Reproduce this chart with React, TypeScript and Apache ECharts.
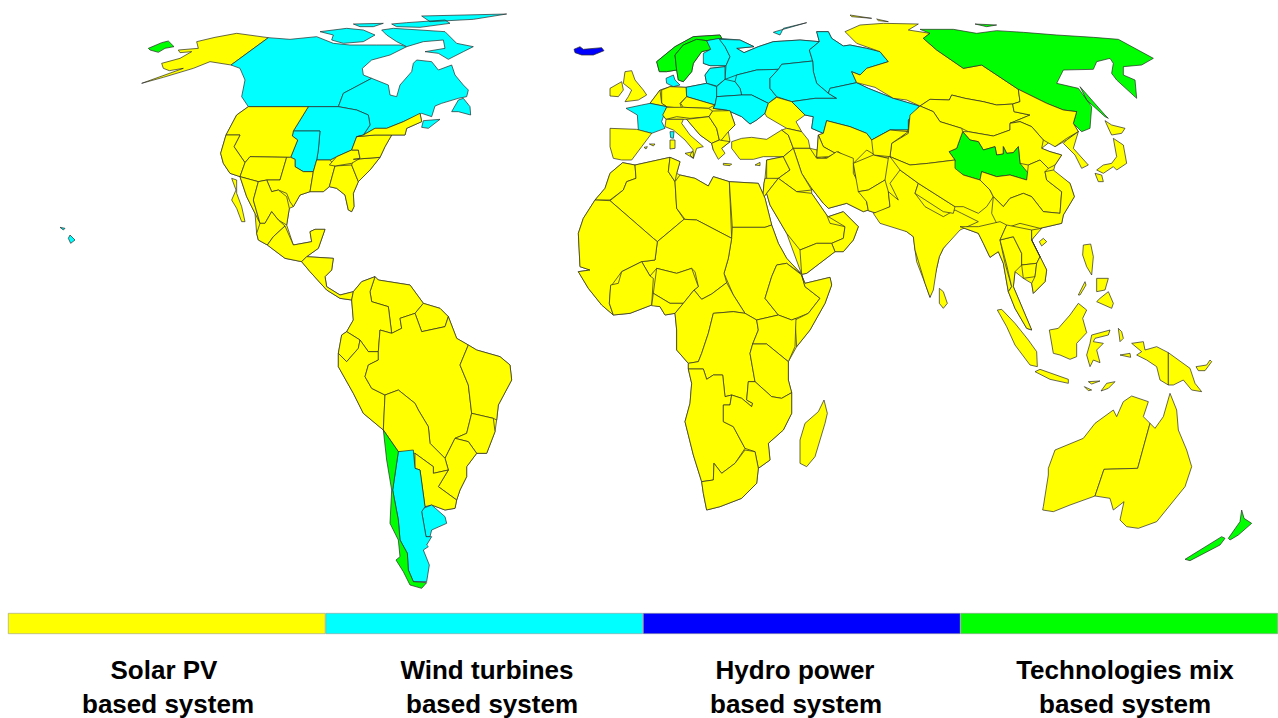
import React, { useEffect, useRef } from "react";
import * as echarts from "echarts";

type Ring = number[][];
// Traced outlines: flat x,y lists, with the origin of the crop they were read in.
const z = (ox: number, oy: number, f: number[]): Ring => {
  const r: Ring = [];
  for (let i = 0; i < f.length; i += 2) r.push([ox + f[i] / 3, oy + f[i + 1] / 3]);
  r.push(r[0]);
  return r;
};
const na = (f: number[]) => z(130, 0, f);
const eu = (f: number[]) => z(560, 0, f);
const as = (f: number[]) => z(840, 0, f);
const sa = (f: number[]) => z(320, 270, f);
const af = (f: number[]) => z(570, 140, f);
const oc = (f: number[]) => z(900, 220, f);
const pg = (f: number[]) => z(0, 0, f);

const shapes: Record<string, Ring[]> = {
  LandNorthAmerica: [na([355,320,535,320,487,408,503,420,482,472,495,478,495,500,520,515,550,515,565,478,600,480,620,470,665,450,680,410,700,405,735,385,770,385,820,365,870,340,875,365,830,385,825,405,785,405,765,440,750,472,720,510,685,545,670,580,672,620,665,635,655,630,645,585,620,565,598,560,580,575,540,575,510,585,490,620,478,625,470,675,490,735,545,725,540,695,555,688,585,688,565,745,530,770,610,775,605,810,585,830,590,860,630,885,670,875,665,900,630,895,590,870,540,815,515,785,465,775,412,735,385,720,380,700,375,640,350,590,330,530,300,520,280,490,272,460,288,405,320,345])],
  LandSouthAmerica: [sa([125,35,165,20,175,30,270,45,310,100,360,115,385,140,410,205,445,225,470,240,540,260,570,285,575,330,535,405,530,450,525,485,500,550,470,550,440,590,440,620,420,660,410,690,405,715,375,720,335,705,315,710,300,600,285,595,280,540,235,545,190,480,130,430,100,370,55,290,55,250,65,195,80,185,100,150,95,90,100,65])],
  LandAfrica: [af([158,68,195,75,300,52,330,65,320,100,330,105,375,115,415,138,430,110,478,125,565,130,585,175,605,255,625,310,650,355,692,400,705,430,780,412,785,435,765,490,720,570,680,620,655,665,655,720,665,758,665,820,640,870,595,910,600,960,565,985,560,1030,515,1075,450,1100,410,1110,400,1060,395,1025,370,945,345,845,360,790,365,730,355,687,355,670,320,630,320,570,315,520,285,525,270,500,245,495,180,520,130,525,95,495,55,445,25,395,60,390,30,380,25,280,40,235,75,180,105,145,120,100])],
  LandArabia: [af([582,130,585,115,590,60,640,50,670,25,720,25,850,55,885,165,895,210,880,215,830,190,775,205,760,190,725,145,725,160,770,225,775,230,820,215,865,260,850,300,820,335,795,335,710,400,695,403,650,280,600,195,590,160,578,175])],
  LandCentralEurope: [eu([270,310,300,270,330,260,378,262,380,290,465,315,460,325,500,330,510,332,525,375,505,395,510,425,485,445,460,450,455,430,420,405,380,358,370,358,318,358,308,345,320,322])],
  LandAsia: [as([-65,405,-50,400,-40,362,30,380,80,400,95,420,150,390,205,390,210,345,240,318,270,298,328,300,335,285,375,295,430,305,470,315,518,312,540,305,535,268,620,310,670,330,710,335,700,370,715,395,680,420,645,440,630,425,605,445,630,455,665,465,645,495,640,515,690,550,703,590,670,645,665,670,600,685,575,720,620,810,615,845,580,880,575,850,550,835,525,815,520,860,575,990,560,985,525,925,505,875,490,790,475,755,450,772,430,730,415,700,360,680,310,745,298,770,290,805,270,892,255,850,230,785,225,750,220,710,200,695,110,640,85,632,55,575,40,490,-55,470,-70,472])],
  LandEastEurope: [eu([430,190,452,148,440,122,478,115,540,120,582,140,530,145,552,158,595,140,640,125,720,120,778,125,770,95,805,95,815,115,850,138,870,135,920,145,960,155,985,185,920,205,900,225,875,215,890,248,925,265,1000,295,1078,318,1045,360,1045,390,990,390,935,420,920,400,870,380,800,362,790,400,755,385,760,350,735,345,695,305,650,292,625,310,615,340,590,360,570,372,545,350,500,330,460,325,465,315,380,290,378,262,440,250,435,225,450,205,495,200,498,197,450,197])],
  LandScandinavia: [eu([290,185,345,140,400,110,480,105,485,115,440,122,455,148,425,155,400,190,395,215,370,245,355,240,350,210,320,215,298,215])],

  Alaska: [na([415,113,320,100,255,112,200,125,205,145,145,150,150,158,185,155,150,175,95,190,100,205,118,212,160,205,35,250,100,232,190,205,240,185,303,195])],
  Aleutian: [na([55,145,95,128,115,123,132,140,105,145,85,157,60,150])],
  Hawaii: [pg([180,682,195,685,190,690]), pg([210,705,225,720,212,730,205,715])],
  WestCanada: [na([415,113,480,118,560,110,610,130,660,135,740,135,810,135,830,140,780,165,725,180,697,205,700,225,725,235,640,280,625,320,355,320,335,290,345,240,330,205,303,195])],
  EastCanada: [na([725,235,775,255,780,285,800,290,810,255,845,215,850,190,860,180,905,185,925,210,965,195,975,225,1000,255,1015,270,1010,290,985,295,935,310,915,318,905,350,875,340,820,365,770,385,735,385,700,405,720,375,715,345,680,330,625,320,640,280]), na([985,300,1000,295,1020,320,1022,345,985,335,965,335]), na([880,362,930,358,895,385,875,382])],
  ArcticA: [na([570,95,650,85,700,90,735,105,700,125,640,130,605,120,610,105]), na([670,72,760,70,730,80,690,80]), na([755,90,790,85,870,90,945,95,980,130,1030,140,1000,155,955,178,925,160,885,155,945,145,940,120,880,125,830,140,800,125,770,105]), na([785,72,830,68,945,60,960,70,870,82,800,80]), na([875,48,1130,42,1030,58,900,65])],
  Midwest: [na([535,320,625,320,680,330,715,345,720,375,700,405,680,410,665,450,620,470,600,480,560,480,565,450,570,393,490,393])],
  Plains: [na([490,393,570,393,565,450,560,480,550,515,520,515,495,500,495,478,482,472,503,420,487,408])],
  Northwest: [na([355,320,535,320,490,393,487,408,503,420,482,472,360,470,345,488,312,440,330,405,288,405,320,345])],
  California: [na([288,405,330,405,312,440,345,488,330,530,300,520,280,490,272,460])],
  Southwest: [na([345,488,360,470,470,472,450,540,410,540,385,545,330,530])],
  Texas: [na([470,472,482,472,495,478,495,500,520,515,550,515,540,575,510,585,490,620,480,605,470,580,445,570,425,575,410,540,450,540])],
  Central: [na([560,480,600,480,615,498,598,560,580,575,540,575,550,515])],
  Southeast: [na([615,498,665,495,685,545,670,580,672,620,665,635,655,630,645,585,620,565,598,560])],
  Carolina: [na([665,495,670,478,750,472,720,510,685,545])],
  Kentucky: [na([598,495,620,470,665,450,685,450,690,475,665,490,615,498])],
  Virginia: [na([680,410,735,405,785,405,765,440,750,472,670,478,690,475,685,450,665,450])],
  Northeast: [na([700,405,735,385,770,385,820,365,870,340,875,365,830,385,825,405,785,405,735,405,680,410])],
  Baja: [na([305,535,320,540,320,580,335,620,345,665,335,665,320,625,305,600,318,570])],
  Sonora: [na([330,530,385,545,370,600,390,670,375,640,350,590])],
  NorthMexico: [na([385,545,410,540,425,575,445,570,470,590,478,625,470,675,445,660,425,635,405,670,390,670,370,600])],
  CentralMexico: [na([390,670,405,670,425,635,445,660,465,678,430,710,412,735,385,720,380,700])],
  SouthMexico: [na([465,678,490,735,545,725,540,695,555,688,585,688,565,745,530,770,515,785,465,775,412,735,430,710])],
  CentralAmerica: [na([515,785,530,770,610,775,605,810,585,830,590,860,630,885,670,875,665,900,630,895,590,870,540,815])],

  Iceland: [eu([42,148,60,140,70,148,125,143,132,152,100,165,65,165,45,158])],
  Norway: [eu([290,185,345,140,400,110,480,105,485,115,440,122,410,118,370,135,345,165,350,210,320,215,298,215])],
  Sweden: [eu([345,165,370,135,410,118,440,122,455,148,425,155,400,190,395,215,370,245,355,240,350,210])],
  Finland: [eu([440,122,478,115,495,140,510,170,498,197,450,197,430,190,430,160,452,148])],
  Denmark: [eu([318,235,340,225,345,240,360,255,340,260,320,250])],
  Britain: [eu([195,215,215,212,225,240,250,270,260,285,235,300,195,305,205,290,215,270,190,250])],
  Ireland: [eu([150,265,185,245,190,270,175,290,150,288])],
  RussiaNW: [eu([478,118,540,120,582,140,530,145,552,158,595,140,640,125,720,120,778,125,748,150,758,183,665,193,655,208,590,210,530,225,495,238,498,197,510,170,495,140]), eu([645,95,740,68,670,85,660,105,640,97])],
  RussiaUral: [eu([778,125,770,95,805,95,815,115,850,138,870,135,920,145,960,155,985,185,920,205,900,225,875,215,890,248,810,265,805,280,770,250,760,215,758,183,748,150])],
  RussiaMid: [eu([530,225,590,210,655,208,630,235,630,265,650,290,625,310,575,285,545,285,540,265,525,245])],
  RussiaVolga: [eu([655,208,665,193,758,183,760,215,770,250,805,280,830,295,765,295,695,305,650,290,630,265,630,235])],
  Kazakhstan: [eu([805,280,810,265,890,248,925,265,1000,295,1078,318,1045,360,1045,390,990,390,935,420,920,400,870,380,800,362,790,400,755,385,760,350,735,345,695,305,765,295,830,295])],
  Baltics: [eu([435,225,450,205,495,200,495,238,470,258,440,250])],
  Poland: [eu([378,262,440,250,470,260,470,290,465,315,380,290])],
  Belarus: [eu([470,260,495,238,525,245,540,265,545,285,470,290])],
  Ukraine: [eu([470,290,545,285,575,285,625,310,615,340,590,360,570,372,545,350,500,330,460,325,465,315])],
  SouthRussia: [eu([650,292,695,305,735,345,708,365,725,395,680,385,620,350,615,340,625,310])],
  Germany: [eu([305,310,305,270,330,260,378,262,380,290,360,310,365,325,320,320])],
  Benelux: [eu([270,310,300,270,305,310,320,320])],
  France: [eu([198,325,245,315,270,310,320,320,305,365,315,385,275,400,235,390,232,345]), eu([330,395,342,395,340,415,332,413])],
  Iberia: [eu([150,385,230,388,275,400,245,440,215,480,185,480,160,475,150,440]), eu([268,432,285,432,280,438]), eu([252,442,262,440,258,447])],
  Czech: [eu([362,310,380,290,465,315,445,325,370,322])],
  Austria: [eu([308,345,320,322,370,322,445,325,458,333,447,350,390,355,350,350,318,358])],
  Italy: [eu([315,380,318,358,370,358,365,370,390,405,430,440,410,445,400,475,390,465,400,450,375,420,340,390]), eu([375,460,400,455,400,475]), eu([330,420,345,420,345,445,330,447])],
  Balkans: [eu([380,358,447,350,470,385,478,420,455,430,420,405])],
  Romania: [eu([447,350,458,333,510,332,525,375,505,395,480,425,478,420,470,385])],
  Greece: [eu([455,430,478,420,510,425,485,445,495,460,475,478,460,450]), eu([490,490,515,492,510,497,490,495])],
  Turkey: [eu([515,425,545,415,575,412,620,418,665,390,685,405,700,445,670,470,610,470,580,478,540,478,515,445]), eu([585,495,600,487,600,497])],
  Caucasus: [eu([665,390,680,385,725,395,745,420,750,445,700,445,685,405])],
  Uzbekistan: [eu([775,405,790,400,800,362,870,380,920,400,935,420,990,390,1045,390,1000,440,985,475,945,465,920,450,880,490,790,440])],
  Turkmenistan: [eu([775,405,790,440,880,490,835,455,805,470,770,472])],

  Iran: [af([670,25,720,25,740,55,770,55,800,35,850,55,850,100,885,165,895,210,880,215,830,190,775,205,760,190,725,145,695,100])],
  Syria: [af([590,60,640,50,660,90,625,115,590,120])],
  Iraq: [af([640,50,670,25,695,100,725,150,680,155,625,115,660,90])],
  Jordan: [af([585,115,625,115,590,160,578,175,582,130])],
  Saudi: [af([625,115,680,155,725,160,770,225,780,250,825,260,820,295,785,310,740,310,690,330,650,280,600,195,590,160])],
  Oman: [af([775,230,820,215,865,260,850,300,820,335,795,335,785,310,820,295,825,260])],
  Yemen: [af([690,330,740,310,785,310,795,335,710,400,695,403])],
  Morocco: [af([158,68,195,75,198,115,170,125,160,150,120,180,75,180,105,145,120,100])],
  Algeria: [af([195,75,300,52,295,95,315,125,320,205,342,238,262,305,250,295,120,182,160,150,170,125,198,115])],
  Tunisia: [af([300,52,330,65,320,100,315,125,295,95])],
  Libya: [af([315,125,330,105,375,115,415,138,430,110,478,125,485,295,380,240,345,238,320,205])],
  Egypt: [af([478,125,565,130,585,175,605,255,585,262,487,262])],
  Sudan: [af([487,262,585,262,605,255,625,310,650,355,692,400,650,370,620,375,605,410,585,475,625,525,560,540,525,520,490,465,462,400,475,355,485,295])],
  Ethiopia: [af([620,375,650,370,695,405,705,440,750,475,715,520,665,540,625,525,585,475,605,410])],
  Somalia: [af([695,405,705,430,780,412,785,435,765,490,720,570,680,620,675,540,715,520,750,475,705,440])],
  Niger: [af([262,305,342,238,380,240,485,295,475,355,462,400,470,428,425,462,395,478,372,450,385,440,375,395,365,385,320,400,260,385,240,408,215,365,255,360])],
  Mali: [af([75,180,120,182,250,295,262,305,255,360,215,365,155,395,122,440,118,490,130,525,95,495,55,445,25,395,60,390,30,380,25,280,40,235])],
  IvoryCoast: [af([215,365,240,408,250,415,245,495,180,520,130,525,118,490,122,435,145,430,155,395])],
  Nigeria: [af([260,385,320,400,365,385,385,440,372,450,340,490,300,490,250,460])],
  Benin: [af([250,460,300,490,340,490,315,520,285,525,270,500,245,497])],
  Cameroon: [af([372,450,395,478,425,462,470,428,490,465,525,520,490,515,430,520,415,580,395,640,385,665,355,670,320,630,320,570,315,520,340,490])],
  Congo: [af([430,520,490,515,525,520,560,540,565,570,548,612,540,640,555,725,535,725,530,780,548,790,545,800,515,775,485,765,465,770,458,705,430,705,410,718,400,687,355,687,355,670,385,665,395,640,415,580])],
  Kenya: [af([560,540,625,525,665,540,678,535,675,620,655,665,590,612,548,612,565,570])],
  Tanzania: [af([548,612,590,612,655,665,655,720,665,758,635,775,605,770,555,725,540,640])],
  Angola: [af([355,687,400,687,410,718,430,705,458,705,465,770,485,765,480,795,460,795,460,845,490,860,525,925,495,970,455,1000,432,970,430,1020,395,1025,370,945,345,845,360,790,365,730])],
  Zambia: [af([480,795,485,765,515,775,545,800,548,790,530,780,535,725,555,725,605,770,635,775,665,758,665,820,640,870,595,910,600,960,565,985,555,935,525,925,490,860,460,845,460,795])],
  SouthAfrica: [af([395,1025,430,1020,432,970,455,1000,495,970,525,930,555,935,565,985,560,1030,515,1075,450,1100,410,1110,400,1060])],
  Madagascar: [af([762,780,772,820,765,850,735,950,710,980,690,970,690,900,705,850,745,815])],

  Siberia: [as([15,95,60,75,130,70,235,72,205,90,270,100,250,115,290,150,370,205,425,195,535,268,540,305,518,312,470,315,430,305,375,295,335,285,328,300,270,298,240,318,200,300,160,295,105,262,50,248,35,215,60,225,80,205,145,185,120,155,50,130,30,110]), as([30,45,95,55,35,50]), as([110,57,145,65,115,62])],
  EastSiberia: [as([250,115,270,100,240,88,340,88,410,100,470,92,550,97,650,105,760,112,835,118,940,175,905,195,850,200,850,225,885,240,890,295,830,240,815,220,820,190,810,175,770,185,760,208,670,210,650,250,715,265,755,320,750,385,725,395,700,370,710,335,670,330,620,310,535,268,425,195,370,205,290,150]), as([720,260,795,345,805,355,795,350,740,300]), as([405,72,470,75,440,80])],
  Mongolia: [as([240,318,270,298,328,300,335,285,375,295,430,305,470,315,518,312,522,335,570,345,510,370,510,390,460,408,385,395,365,385,300,365,280,335])],
  Manchuria: [as([518,312,540,305,535,268,620,310,670,330,710,335,700,370,715,395,680,415,645,440,610,420,575,380,540,365,510,370,570,345,522,335])],
  NorthChina: [as([368,395,385,395,460,408,510,390,510,370,540,365,575,380,610,420,605,445,630,455,665,465,645,495,625,505,600,480,565,495,540,490,535,440,520,458,500,460,490,440,490,462,470,465,465,440,430,450,415,425,390,420])],
  Qinghai: [as([368,395,390,420,415,425,430,450,465,440,470,465,490,462,490,440,500,460,520,458,535,440,540,490,565,520,560,540,510,525,470,530,425,515,420,540,370,525,340,505,345,480,327,455,350,445])],
  Xinjiang: [as([240,318,280,335,300,365,365,385,368,395,350,445,327,455,345,480,265,490,210,495,150,470,155,430,205,400,210,345])],
  Kyrgyz: [as([150,470,155,430,205,395,150,390,95,420,100,465])],
  Afghanistan: [as([40,490,100,465,145,475,135,540,85,570,55,575])],
  Pakistan: [as([55,575,85,570,135,540,145,575,150,620,110,640,85,632,80,605])],
  India: [as([100,640,150,620,145,575,175,600,150,550,180,510,235,550,225,580,255,620,310,650,345,630,365,640,415,665,360,690,310,745,298,770,290,805,280,870,270,892,255,850,225,750,220,710,200,695,120,670])],
  Nepal: [as([235,550,345,620,340,640,310,635,225,580])],
  Tibet: [as([150,470,210,495,265,490,345,480,345,505,370,525,420,540,450,570,460,590,440,620,415,640,370,620,345,620,235,550,180,510])],
  CentralChina: [as([420,540,425,515,470,530,510,525,560,540,565,495,600,480,625,505,615,515,620,540,665,575,660,640,610,635,575,590,550,580,510,595,490,620,460,590,450,570])],
  SouthChina: [as([615,515,640,510,690,550,703,590,670,645,665,670,600,685,540,670,480,690,455,640,460,590,490,620,510,595,550,580,575,590,610,635,660,640,665,575,620,540])],
  Hokkaido: [as([795,362,815,375,855,385,845,400,815,405,810,395])],
  Honshu: [as([820,415,850,435,860,490,830,510,820,500,790,520,770,510,790,495,815,490,830,470]), as([765,520,785,525,790,545,775,545])],
  Korea: [as([680,420,715,395,700,445,745,495,725,505,705,465,670,430])],

  Myanmar: [oc([180,20,235,20,300,5,320,15,300,60,315,130,335,200,325,215,310,130,295,95,270,112,250,70,235,40])],
  Thailand: [oc([300,60,340,50,365,100,365,135,345,155,340,200,395,330,380,325,345,265,325,215,335,200,320,135])],
  Laos: [oc([320,15,395,30,395,60,420,110,410,130,365,135,365,100,340,50,300,60])],
  Cambodia: [oc([365,135,410,130,405,170,370,175])],
  Vietnam: [oc([395,30,425,25,395,60,440,150,435,185,400,220,395,190,405,170,410,130,420,110,395,60])],
  Hainan: [oc([430,55,440,65,425,78,418,65])],
  SriLanka: [oc([118,205,130,215,142,250,130,265,118,250])],
  Sumatra: [oc([292,270,305,268,345,310,385,360,410,395,412,440,390,435,345,375,320,320])],
  Java: [oc([405,455,420,448,505,478,505,490,450,478])],
  Borneo: [oc([448,330,475,325,510,285,535,250,560,270,548,295,560,338,530,370,530,410,510,418,480,405,460,400])],
  Sulawesi: [oc([575,345,630,330,625,345,585,355,580,365,610,370,590,390,600,428,580,420,570,440,560,405,570,370])],
  Papua: [oc([695,370,730,365,735,390,770,380,805,398,805,465,805,495,780,480,770,440,740,420,710,405,725,395])],
  PNG: [oc([805,398,870,445,885,490,905,515,875,510,850,480,820,495,805,495]), oc([888,440,920,435,930,420,935,425,915,452,895,452])],
  Philippines: [oc([550,75,572,72,580,110,575,165,560,140,548,105]), oc([590,175,625,175,615,210,590,215]), oc([600,235,625,215,640,250,635,265,590,245]), oc([535,225,555,185,558,195,540,225])],
  Moluccas: [oc([603,513,620,490,645,485,625,505]), oc([565,485,600,483,575,492]), oc([553,500,575,510,565,512]), oc([660,405,690,400,692,412]), oc([655,325,665,335,670,355,660,365])],
  WestAustralia: [oc([430,860,445,765,445,745,465,690,550,655,585,610,640,570,650,590,670,545,695,528,745,545,730,590,750,610,713,745,612,748,585,828,510,855,460,875,428,870])],
  EastAustralia: [oc([750,610,765,625,790,590,810,520,830,570,835,630,860,690,875,740,855,800,770,905,715,925,680,920,660,900,672,845,640,870,630,835,585,828,612,748,713,745])],
  NewZealand: [oc([855,1018,965,950,975,955,960,975,870,1022]), oc([985,955,1020,905,1025,870,1032,895,1055,910,1015,945,990,960])],

  Venezuela: [sa([165,20,175,30,270,45,310,100,285,130,240,145,245,175,215,190,205,110,155,95,150,65])],
  Guianas: [sa([310,100,360,115,385,140,375,170,305,185,285,130])],
  Colombia: [sa([125,35,165,20,150,65,155,95,205,110,215,190,180,180,175,245,145,245,120,210,80,185,100,150,95,90,100,65])],
  Ecuador: [sa([80,185,120,210,115,235,80,275,55,250,65,195])],
  Peru: [sa([115,235,120,210,145,245,175,245,175,270,145,285,135,320,155,355,195,375,190,480,130,430,100,370,55,290,55,250,80,275])],
  Brazil: [sa([175,245,180,180,215,190,245,175,240,145,285,130,305,185,375,170,385,140,410,205,445,225,420,285,445,345,455,430,440,490,405,505,385,545,375,565,330,520,325,470,295,420,285,400,235,360,195,375,155,355,135,320,145,285,175,270])],
  NEBrazil: [sa([445,225,470,240,540,260,570,285,575,330,535,405,530,450,520,445,455,430,445,345,420,285])],
  SEBrazil: [sa([455,430,520,445,525,485,500,550,470,550,445,515,405,505,440,490])],
  SouthBrazil: [sa([405,505,445,515,470,550,440,590,440,620,420,660,410,690,355,650,385,600,375,565,385,545])],
  Bolivia: [sa([195,375,235,360,285,400,295,420,325,470,330,520,375,565,385,600,340,610,340,590,285,550,235,545,190,480])],
  Paraguay: [sa([285,550,340,590,340,610,385,600,355,650,410,690,405,715,375,720,335,705,315,710,300,600,285,595])],
  Uruguay: [sa([310,715,335,705,375,740,380,760,335,780,330,800,318,800,305,725])],
  Argentina: [sa([235,545,280,540,285,595,300,600,315,710,305,725,318,800,335,800,320,825,325,830,310,840,328,885,320,935,280,935,265,900,262,850,240,810,235,750,218,660])],
  Chile: [sa([190,480,235,545,218,660,235,750,240,810,262,850,265,900,280,935,320,938,305,955,270,945,250,905,228,870,240,860,235,810,210,760,215,660,200,570])],
};

const solarRegions = ["LandNorthAmerica","LandSouthAmerica","LandAfrica","LandArabia","LandCentralEurope","LandAsia","Alaska","Northwest","California","Southwest","Texas","Central","Southeast","Carolina","Kentucky","Virginia","Northeast","Baja","Sonora","NorthMexico","CentralMexico","SouthMexico","CentralAmerica","Britain","Ireland","SouthRussia","Germany","Benelux","Iberia","Czech","Austria","Italy","Balkans","Romania","Greece","Turkey","Caucasus","Uzbekistan","Turkmenistan","Iran","Syria","Iraq","Jordan","Saudi","Oman","Yemen","Morocco","Algeria","Tunisia","Libya","Egypt","Sudan","Ethiopia","Somalia","Niger","Mali","IvoryCoast","Nigeria","Benin","Cameroon","Congo","Kenya","Tanzania","Angola","Zambia","SouthAfrica","Madagascar","Siberia","Mongolia","Manchuria","NorthChina","Xinjiang","Kyrgyz","Afghanistan","Pakistan","India","Nepal","Tibet","CentralChina","SouthChina","Hokkaido","Honshu","Korea","Myanmar","Thailand","Laos","Cambodia","Vietnam","Hainan","SriLanka","Sumatra","Java","Borneo","Sulawesi","Papua","PNG","Philippines","Moluccas","WestAustralia","EastAustralia","Venezuela","Guianas","Colombia","Ecuador","Peru","Brazil","NEBrazil","SEBrazil","SouthBrazil","Bolivia","Paraguay"];
const windRegions = ["LandEastEurope","Hawaii","WestCanada","EastCanada","ArcticA","Midwest","Plains","Finland","Denmark","RussiaNW","RussiaUral","RussiaMid","RussiaVolga","Kazakhstan","Baltics","Poland","Belarus","Ukraine","France","Uruguay","Argentina"];
const hydroRegions = ["Iceland"];
const mixRegions = ["LandScandinavia","Aleutian","Norway","Sweden","EastSiberia","Qinghai","NewZealand","Chile"];

const techGroups = [solarRegions, windRegions, hydroRegions, mixRegions];
const techColors = ["#ffff00", "#00ffff", "#0000ff", "#00ff00"];
const techNames = ["Solar PV", "Wind turbines", "Hydro power", "Technologies mix"];
const techSecond = ["based system", "based system", "based system", "based system"];
const legendShare = [1, 1, 1, 1];

const nameX = [164, 487, 795, 1125];
const secondX = [168, 492, 796, 1125];

export default function App() {
  const ref = useRef<HTMLDivElement>(null);
  useEffect(() => {
    document.body.style.margin = "0";
    const geo = {
      type: "FeatureCollection",
      features: Object.keys(shapes).map((name) => ({
        type: "Feature",
        properties: { name },
        geometry: { type: "MultiPolygon", coordinates: shapes[name].map((r) => [r]) },
      })),
    };
    echarts.registerMap("traced", geo as any);
    const chart = echarts.init(ref.current!, null, { renderer: "svg" });
    const textStyle = (text: string, x: number, y: number) => ({
      type: "text",
      x,
      y,
      silent: true,
      style: { text, fill: "#000", font: 'bold 26px "Liberation Sans", Arial, sans-serif', textAlign: "center", textVerticalAlign: "middle" },
    });
    chart.setOption({
      animation: false,
      backgroundColor: "#fff",
      grid: { left: 8, top: 613, width: 1270, height: 21, containLabel: false },
      xAxis: { type: "category", data: techNames, show: false },
      yAxis: { type: "value", min: 0, max: 1, show: false },
      series: [
        {
          type: "map",
          map: "traced",
          silent: true,
          roam: false,
          left: 0,
          top: 0,
          width: 1278,
          height: 718,
          projection: { project: (p: number[]) => p, unproject: (p: number[]) => p },
          boundingCoords: [[0, 0], [1278, 718]],
          label: { show: false },
          emphasis: { disabled: true },
          itemStyle: { borderColor: "#2a2a2a", borderWidth: 0.7 },
          data: techGroups.flatMap((names, i) =>
            names.map((name) => ({ name, value: i, itemStyle: { areaColor: techColors[i], color: techColors[i] } }))
          ),
        },
        {
          type: "bar",
          barWidth: "100%",
          silent: true,
          data: legendShare.map((value, i) => ({ value, itemStyle: { color: techColors[i], borderColor: "#9a9a9a", borderWidth: 0.6 } })),
        },
      ],
      graphic: techNames.flatMap((n, i) => [textStyle(n, nameX[i], 670), textStyle(techSecond[i], secondX[i], 704)]),
    });
    return () => chart.dispose();
  }, []);
  return <div ref={ref} style={{ width: 1278, height: 718 }} />;
}
